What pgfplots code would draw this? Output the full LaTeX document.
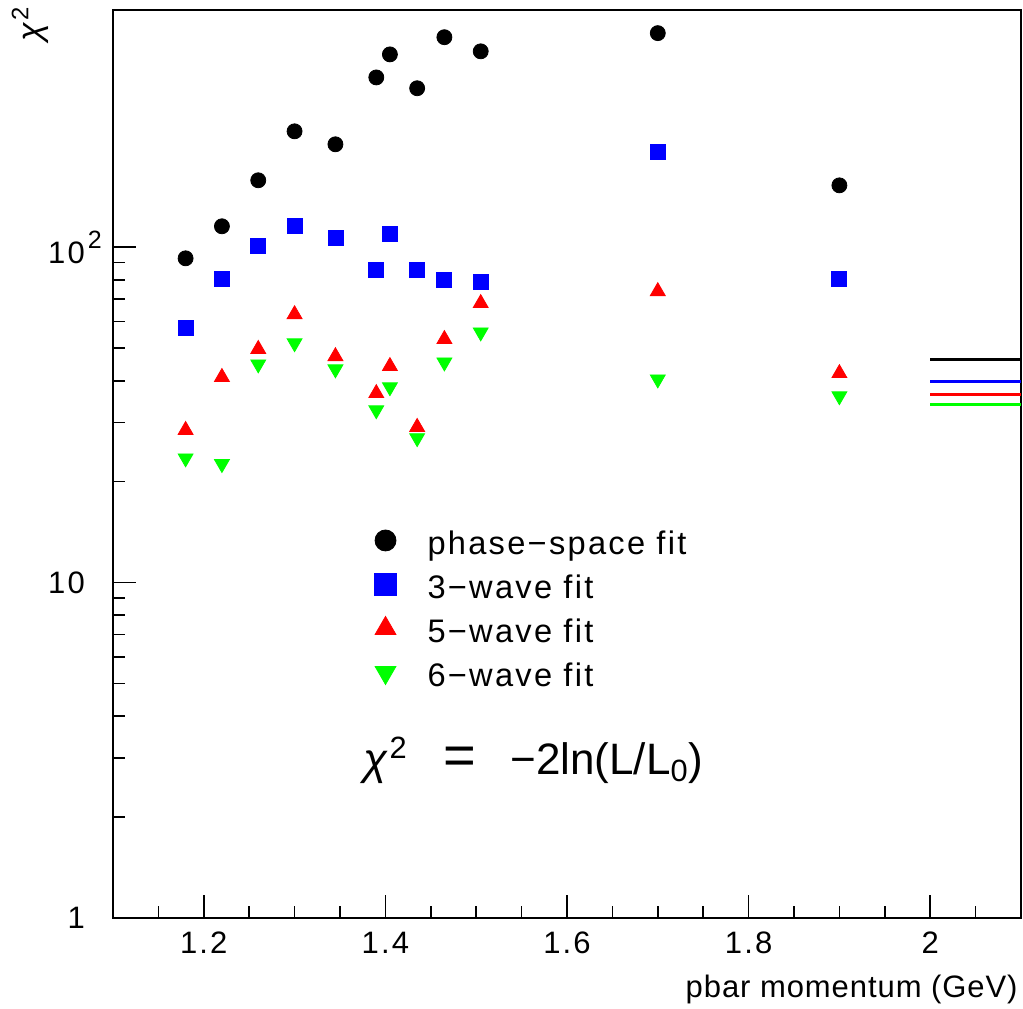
\documentclass[border=0pt]{standalone}
\usepackage{fontspec}
\setmainfont{Liberation Sans}[LetterSpace=4]
\usepackage{pgfplots}
\pgfplotsset{compat=1.18}
\newcommand{\fs}{\fontsize{15.5}{18}\selectfont}
\begin{document}
\begin{tikzpicture}
\begin{axis}[
  scale only axis, width=454pt, height=454pt,
  xmin=1.1, xmax=2.1, ymode=log, ymin=1, ymax=510,
  clip=false,
  axis line style={line width=0.9pt},
  xtick={1.2,1.4,1.6,1.8,2},
  xticklabels={1.2,1.4,1.6,1.8,2},
  minor xtick={1.15,1.25,1.3,1.35,1.45,1.5,1.55,1.65,1.7,1.75,1.85,1.9,1.95,2.05},
  ytick={1,10,100},
  yticklabels={{1\hspace{3.5pt}},{10},{10\rlap{\hspace{1.5pt}\raisebox{7.5pt}{\fontsize{12.5}{14}\selectfont 2}}}},
  tick pos=left,
  tick align=inside,
  major tick length=11.5pt, minor tick length=6pt,
  every tick/.style={black, line width=0.8pt},
  tick label style={font=\fs\addfontfeature{LetterSpace=7}},
  xticklabel style={yshift=-3.5pt},
  yticklabel style={xshift=-10.5pt},
  /pgf/number format/assume math mode=true,
  legend cell align=left,
  legend style={at={(rel axis cs:0.2865,0.43)}, anchor=north west, draw=none, fill=none, inner sep=0pt, row sep=3.5pt,
    nodes={inner sep=2pt, text height=11.5pt, text depth=3pt, font=\fontsize{16.3}{19}\selectfont\addfontfeature{LetterSpace=7}}},
  legend image code/.code={\path[draw=none,fill=none] (-6pt,0) -- (19pt,0); \draw[#1] plot coordinates {(0pt,3pt)};},
]
\addlegendimage{only marks, mark=*, mark size=5.25pt, black}
\addlegendentry{phase−space fit}
\addlegendimage{only marks, mark=square*, mark size=5.4pt, blue}
\addlegendentry{3−wave fit}
\addlegendimage{only marks, mark=triangle*, mark size=6pt, red}
\addlegendentry{5−wave fit}
\addlegendimage{only marks, mark=triangle*, mark size=6pt, green, mark options={rotate=180}}
\addlegendentry{6−wave fit}

\addplot[forget plot, only marks, mark=*, mark size=3.75pt, black] coordinates {
(1.18,92.7) (1.22,115.5) (1.26,158.4) (1.30,221.7) (1.345,202.8) (1.39,321) (1.405,376) (1.435,298) (1.465,423) (1.505,384) (1.70,435) (1.90,153)};
\addplot[forget plot, only marks, mark=square*, mark size=3.75pt, blue] coordinates {
(1.18,57.4) (1.22,80.3) (1.26,100.7) (1.30,115.5) (1.345,106.4) (1.39,85.4) (1.405,109.3) (1.435,85.4) (1.465,79.7) (1.505,78.6) (1.70,191.9) (1.90,80.3)};
\addplot[forget plot, only marks, mark=triangle*, mark size=4.3pt, red] coordinates {
(1.18,28.5) (1.22,41.0) (1.26,49.7) (1.30,63.1) (1.345,47.3) (1.39,36.7) (1.405,44.2) (1.435,29.1) (1.465,53.2) (1.505,68.1) (1.70,73.9) (1.90,42.1)};
\addplot[forget plot, only marks, mark=triangle*, mark size=4.3pt, green, mark options={rotate=180}] coordinates {
(1.18,23.5) (1.22,22.6) (1.26,44.8) (1.30,51.8) (1.345,43.3) (1.39,32.7) (1.405,38.3) (1.435,27.0) (1.465,45.4) (1.505,55.8) (1.70,40.4) (1.90,36.0)};

\addplot[forget plot, black, line width=1.5pt] coordinates {(2,46.4) (2.1,46.4)};
\addplot[forget plot, blue, line width=1.5pt] coordinates {(2,39.9) (2.1,39.9)};
\addplot[forget plot, red, line width=1.5pt] coordinates {(2,36.5) (2.1,36.5)};
\addplot[forget plot, green, line width=1.5pt] coordinates {(2,34.0) (2.1,34.0)};

\node[rotate=90, font=\fontsize{17}{20}\selectfont] at (rel axis cs:-0.0914,0.9846) {\textit{χ}\textsuperscript{2}};
\node[anchor=base west, inner sep=0pt, font=\fontsize{22}{26}\selectfont] at (rel axis cs:0.2753,0.1586) {\textit{χ}\textsuperscript{2}};
\node[anchor=base west, inner sep=0pt, font=\fontsize{28}{30}\selectfont] at (rel axis cs:0.3634,0.1586) {=};
\node[anchor=base west, inner sep=0pt, font=\fontsize{22}{26}\selectfont\addfontfeature{LetterSpace=0}] at (rel axis cs:0.4372,0.1586) {−2ln(L/L\textsubscript{0})};
\node[anchor=base east, inner sep=0pt, font=\fs\addfontfeature{LetterSpace=3}] at (rel axis cs:0.9967,-0.087) {pbar momentum (GeV)};
\path (rel axis cs:-0.1244,-0.0991) rectangle (rel axis cs:1.0022,1.0088);
\end{axis}
\end{tikzpicture}
\end{document}
